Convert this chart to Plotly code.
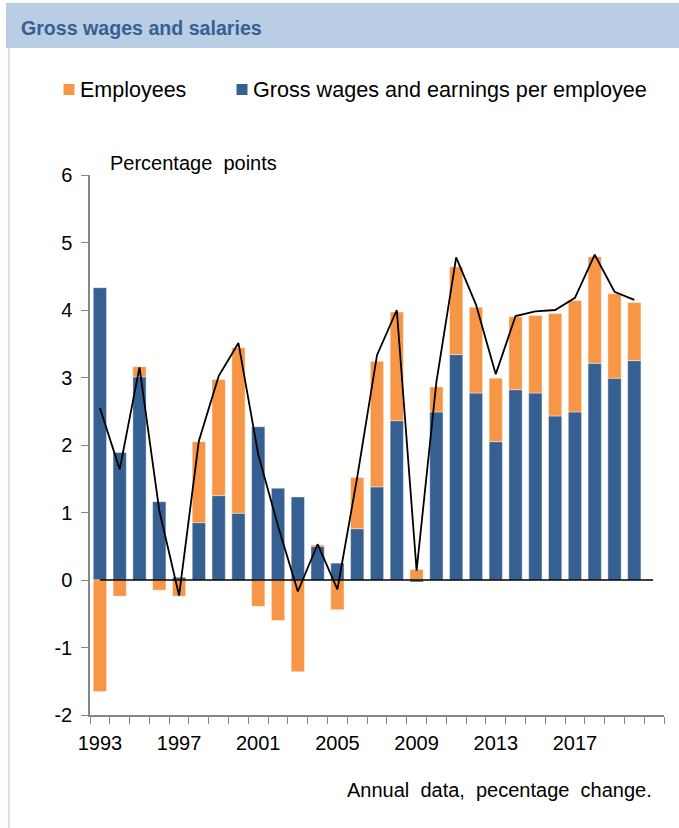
import plotly.graph_objects as go

years = list(range(1993, 2021))
wages_per_employee = [4.33, 1.89, 3.01, 1.16, 0.04, 0.85, 1.25, 0.99, 2.27, 1.36,
                      1.23, 0.50, 0.25, 0.76, 1.38, 2.36, -0.03, 2.49, 3.34, 2.77,
                      2.05, 2.82, 2.77, 2.43, 2.49, 3.21, 2.99, 3.25]
employees = [-1.65, -0.24, 0.15, -0.15, -0.24, 1.20, 1.72, 2.45, -0.39, -0.60,
             -1.36, 0.02, -0.44, 0.76, 1.86, 1.61, 0.155, 0.37, 1.30, 1.27,
             0.94, 1.08, 1.15, 1.52, 1.65, 1.58, 1.25, 0.86]
total = [2.55, 1.64, 3.15, 1.03, -0.23, 2.06, 3.02, 3.51, 1.86, 0.80,
         -0.17, 0.53, -0.14, 1.52, 3.33, 4.00, 0.14, 2.93, 4.78, 4.08,
         3.05, 3.91, 3.98, 4.00, 4.18, 4.82, 4.27, 4.15]
label_years = [1993, 1997, 2001, 2005, 2009, 2013, 2017]
axis_years = list(range(1993, 2022))  # one empty slot at the end
y_ticks = [-2, -1, 0, 1, 2, 3, 4, 5, 6]
y_tick_labels = ["-2", "-1", "0", "1", "2", "3", "4", "5", "6"]

BLUE = "#376092"
ORANGE = "#F79646"
AXIS = "#868686"
FONT = "Liberation Sans, Arial, sans-serif"

# the page body margin is removed below, so page pixels == figure pixels
W, H = 679, 828
PLOT_L, PLOT_R, PLOT_T, PLOT_B = 90, 664, 175, 715
L, R, T, B = PLOT_L, W - PLOT_R, PLOT_T, H - PLOT_B
PW, PH = PLOT_R - PLOT_L, PLOT_B - PLOT_T


def px(x):
    return (x - PLOT_L) / PW


def py(y):
    return (PLOT_B - y) / PH


fig = go.Figure()
fig.add_trace(go.Bar(x=years, y=wages_per_employee, name="Gross wages and earnings per employee",
                     marker=dict(color=BLUE, line=dict(color="rgba(255,255,255,0.5)", width=0.8)),
                     width=0.67, showlegend=False))
fig.add_trace(go.Bar(x=years, y=employees, name="Employees",
                     marker=dict(color=ORANGE, line=dict(color="rgba(255,255,255,0.5)", width=0.8)),
                     width=0.67, showlegend=False))
fig.add_trace(go.Scatter(x=years, y=total, mode="lines", name="Total",
                         line=dict(color="black", width=1.8), showlegend=False))

shapes = []
# zero line
shapes.append(dict(type="line", xref="x", yref="y", x0=years[0], x1=years[-1] + 0.95, y0=0, y1=0,
                   line=dict(color="black", width=1.5), layer="above"))
# title banner
shapes.append(dict(type="rect", xref="paper", yref="paper", x0=px(6), x1=px(690), y0=py(48), y1=py(3),
                   fillcolor="#B9CDE5", line=dict(width=0), layer="below"))
# left frame line
shapes.append(dict(type="line", xref="paper", yref="paper", x0=px(9), x1=px(9), y0=py(840), y1=py(48),
                   line=dict(color="#C6D6EC", width=1.5)))
# legend squares
for cx, col in [(69, ORANGE), (242, BLUE)]:
    shapes.append(dict(type="rect", xref="paper", yref="paper", x0=px(cx - 5.5), x1=px(cx + 5.5),
                       y0=py(95), y1=py(84), fillcolor=col, line=dict(width=0)))

annotations = [
    dict(text="<b>Gross wages and salaries</b>", xref="paper", yref="paper", x=px(19), y=py(28),
         xanchor="left", yanchor="middle", showarrow=False, font=dict(size=19.6, color="#376092", family=FONT)),
    dict(text="Employees", xref="paper", yref="paper", x=px(78), y=py(90),
         xanchor="left", yanchor="middle", showarrow=False, font=dict(size=21.5, color="black", family=FONT)),
    dict(text="Gross wages and earnings per employee", xref="paper", yref="paper", x=px(251), y=py(90),
         xanchor="left", yanchor="middle", showarrow=False, font=dict(size=21.6, color="black", family=FONT)),
    dict(text="Percentage  points", xref="paper", yref="paper", x=px(108), y=py(163),
         xanchor="left", yanchor="middle", showarrow=False, font=dict(size=20, color="black", family=FONT)),
    dict(text="Annual  data,  pecentage  change.", xref="paper", yref="paper", x=px(654), y=py(790),
         xanchor="right", yanchor="middle", showarrow=False, font=dict(size=20, color="black", family=FONT)),
]

fig.update_layout(
    width=W, height=H,
    margin=dict(l=L, r=R, t=T, b=B, pad=0),
    barmode="relative",
    plot_bgcolor="white", paper_bgcolor="white",
    font=dict(family=FONT, size=20, color="black"),
    shapes=shapes, annotations=annotations,
    showlegend=False,
)
fig.update_xaxes(
    range=[axis_years[0] - 0.5, axis_years[-1] + 0.5],
    tickvals=label_years, ticktext=[str(y) for y in label_years],
    ticks="outside", ticklen=7, tickcolor="rgba(0,0,0,0)",
    minor=dict(tickvals=[y - 0.5 for y in axis_years] + [axis_years[-1] + 0.5],
               ticks="outside", ticklen=7, tickcolor=AXIS, tickwidth=1.3, showgrid=False),
    showline=True, linecolor=AXIS, linewidth=1.5,
    showgrid=False, zeroline=False,
    tickfont=dict(size=20, color="black"), ticklabelstandoff=2,
)
fig.update_yaxes(
    range=[-2, 6], tickvals=y_ticks, ticktext=y_tick_labels,
    ticks="outside", ticklen=7, tickcolor=AXIS, tickwidth=1.3,
    showline=True, linecolor=AXIS, linewidth=1.5,
    showgrid=False, zeroline=False,
    tickfont=dict(size=20, color="black"), ticklabelstandoff=5,
)

fig.write_html("out.html", config={"displayModeBar": False},
               post_script="document.body.style.margin='0';document.body.style.overflow='hidden';")
